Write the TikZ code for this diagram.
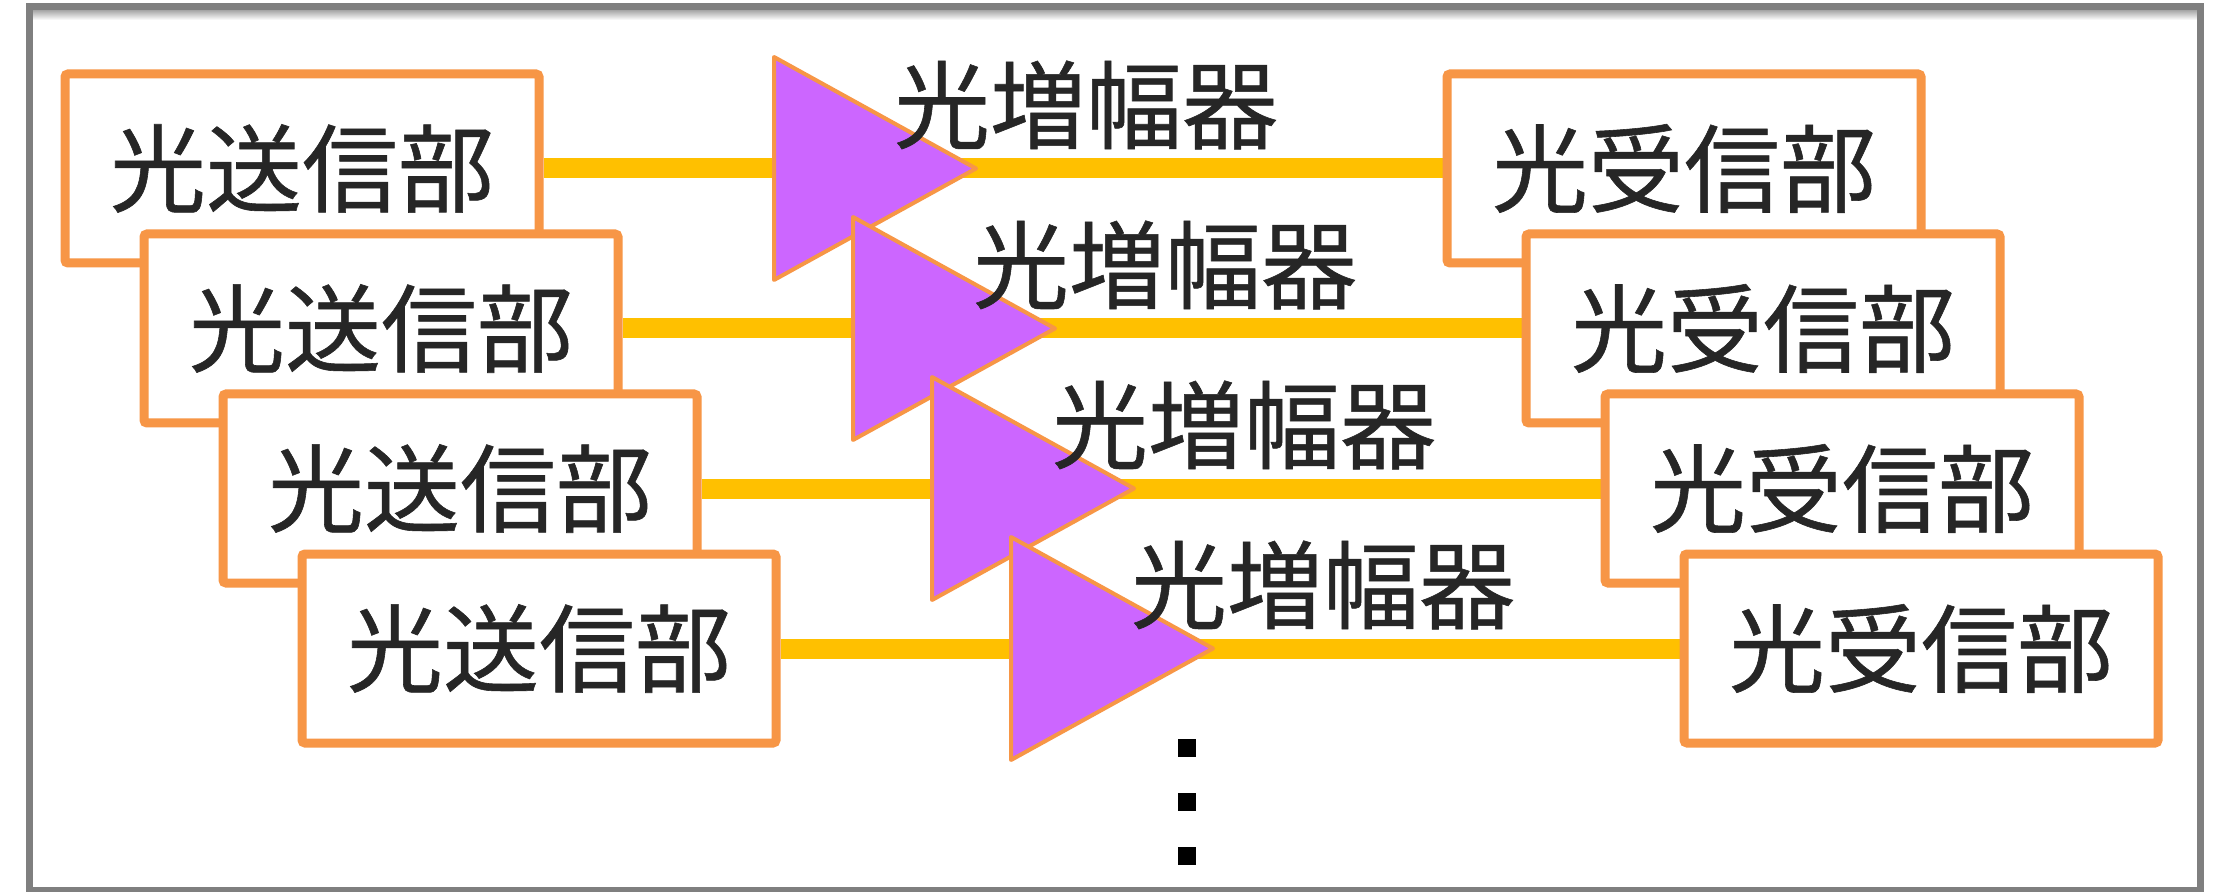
\documentclass[tikz,border=0pt]{standalone}
\usepackage{fontspec}
\setmainfont{Noto Sans CJK JP}[FakeBold=0.6]
\usetikzlibrary{backgrounds}
\definecolor{boxorange}{HTML}{F79646}
\definecolor{linkyellow}{HTML}{FFC000}
\definecolor{amppurple}{HTML}{CC66FF}
\definecolor{txtgray}{HTML}{262626}
\definecolor{framegray}{HTML}{7F7F7F}
\begin{document}
\begin{tikzpicture}[x=0.5pt,y=-0.5pt,
  unitbox/.style={draw=boxorange, line width=4.5pt, fill=white,
    minimum width=237pt, minimum height=94.5pt, inner sep=0pt,
    rounded corners=1.5pt, font=\fontsize{48}{52}\selectfont, text=txtgray},
  ampshape/.style={draw=boxorange, line width=2pt, fill=amppurple, line join=round},
  link/.style={draw=linkyellow, line width=10pt},
  amplabel/.style={font=\fontsize{48}{52}\selectfont, text=txtgray, inner sep=0pt},
  dotmark/.style={fill=black, minimum size=9pt, inner sep=0pt}]
\useasboundingbox (0,0) rectangle (2219,892);
\begin{scope}[on background layer]
  \fill[white] (0,0) rectangle (2219,892);
  \fill[top color=framegray!70, bottom color=white] (31,10) rectangle (2197,20);
  \draw[framegray, line width=3.5pt] (29,7) rectangle (2200,890);
\end{scope}
\foreach \i in {0,...,3}{
  \node[unitbox] (tx\i) at ({302+79*\i},{168.5+160*\i}) {光送信部};
  \node[unitbox] (rx\i) at ({1684+79*\i},{168.5+160*\i}) {光受信部};
  \begin{scope}[on background layer]
    \draw[link] (tx\i.east) -- (rx\i.west);
  \end{scope}
  \coordinate (a\i) at ({774+79*\i},{57+160*\i});
  \coordinate (b\i) at ({774+79*\i},{280+160*\i});
  \coordinate (c\i) at ({976+79*\i},{168.5+160*\i});
  \draw[ampshape] (a\i) -- (c\i) -- (b\i) -- cycle;
  \node[amplabel] (lab\i) at ({1086+79*\i},{105+160*\i}) {光増幅器};
}
\node[dotmark] (d1) at (1187,748) {};
\node[dotmark] (d2) at (1187,802) {};
\node[dotmark] (d3) at (1187,856) {};
\end{tikzpicture}
\end{document}
